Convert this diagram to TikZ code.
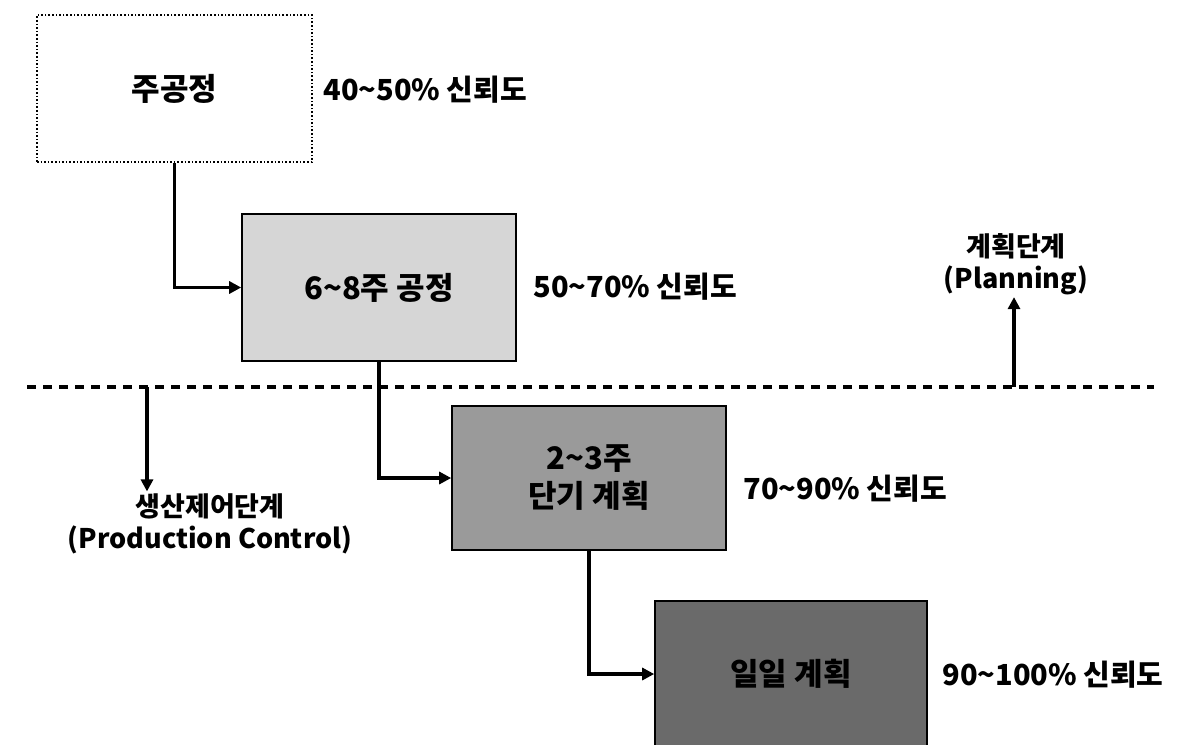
\documentclass[tikz,border=0pt]{standalone}
\usepackage{fontspec}
\setmainfont{Noto Sans CJK KR}
\usepackage{xcolor}
\usetikzlibrary{arrows.meta,calc}
\definecolor{stageLight}{HTML}{D6D6D6}
\definecolor{stageMid}{HTML}{9A9A9A}
\definecolor{stageDark}{HTML}{6A6A6A}
\newcommand{\rng}{\textasciitilde}

\tikzset{
  stagebox/.style={draw=black, line width=0.8pt, align=center, inner sep=0pt,
                   font=\fontsize{15.5}{19}\selectfont\bfseries},
  conflabel/.style={anchor=west, inner sep=0pt, font=\fontsize{14.5}{17}\selectfont\bfseries},
  phaselabel/.style={align=center, inner sep=1pt, font=\fontsize{13.5}{16}\selectfont\bfseries},
  flow/.style={line width=1.6pt, -{Triangle[length=6pt,width=6pt]}}
}

\begin{document}
\begin{tikzpicture}[x=0.5pt,y=-0.5pt]
  \useasboundingbox (0,0) rectangle (1192,744);

  % planning stages
  \node[stagebox, densely dotted, fill=white, minimum width=137.5pt, minimum height=73.5pt]
    (main) at (174.5,88.5) {주공정};
  \node[stagebox, fill=stageLight, minimum width=137pt, minimum height=73.5pt]
    (six) at (379,287.5) {6\rng8주 공정};
  \node[stagebox, fill=stageMid, minimum width=137pt, minimum height=72pt]
    (short) at (589,478) {2\rng3주\\단기 계획};
  \node[stagebox, fill=stageDark, minimum width=136pt, minimum height=73pt]
    (daily) at (791,674) {일일 계획};

  % reliability
  \node[conflabel] (r1) at (323,90) {40\rng50\% 신뢰도};
  \node[conflabel] (r2) at (533,287) {50\rng70\% 신뢰도};
  \node[conflabel] (r3) at (743,489) {70\rng90\% 신뢰도};
  \node[conflabel] (r4) at (942,675) {90\rng100\% 신뢰도};

  % flow between stages
  \draw[flow] (main.south) |- (six.west);
  \draw[flow] (six.south) |- (short.west);
  \draw[flow] (short.south) |- (daily.west);

  % boundary planning / production control
  \coordinate (left) at (27,387);
  \coordinate (right) at (1154,387);
  \draw[line width=1.8pt, dash pattern=on 4.5pt off 3.5pt] (left) -- (right);

  \node[phaselabel] (plan) at (1016,264) {계획단계\\(Planning)};
  \node[phaselabel] (prod) at (210,524) {생산제어단계\\(Production Control)};
  \coordinate (up) at (1014,387);
  \coordinate (down) at (147,387);
  \draw[flow] (up) -- (up |- plan.south);
  \draw[flow] (down) -- (down |- prod.north);
\end{tikzpicture}
\end{document}
